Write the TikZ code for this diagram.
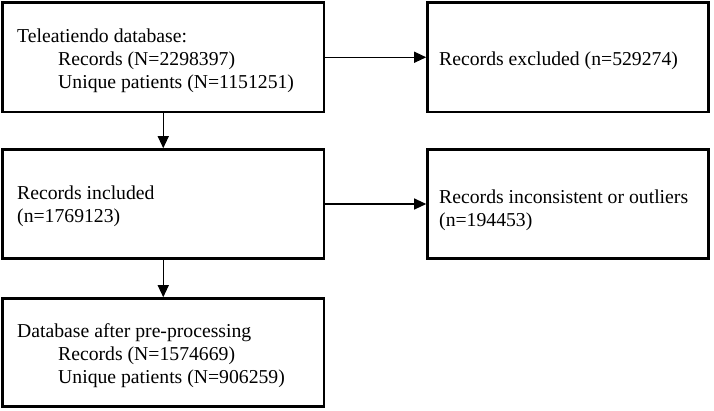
\documentclass[tikz,border=0pt]{standalone}
\usepackage{fontspec}
\setmainfont{Liberation Serif}
\usetikzlibrary{arrows.meta}
\tikzset{
  box/.style={draw=black, line width=2.6pt, rectangle, inner sep=0pt, fill=white},
  lbl/.style={anchor=base west, inner sep=0pt, font=\fontsize{19.7pt}{23pt}\selectfont},
  conn/.style={line width=1.1pt, -{Triangle[length=12pt,width=11pt]}},
}
\begin{document}
\begin{tikzpicture}[x=1pt,y=-1pt]
\useasboundingbox[fill=white] (0,0) rectangle (714,410);
% boxes
\node[box, minimum width=321.5pt, minimum height=109.5pt] (b1) at (163.25,57.25) {};
\node[box, minimum width=281pt, minimum height=109.5pt] (b2) at (568,57.25) {};
\node[box, minimum width=321.5pt, minimum height=109pt] (b3) at (163.25,204) {};
\node[box, minimum width=281pt, minimum height=109pt] (b4) at (568,204) {};
\node[box, minimum width=321.5pt, minimum height=108pt] (b5) at (163.25,352.5) {};
% texts
\node[lbl] (t1a) at (17,42) {Teleatiendo database:};
\node[lbl] (t1b) at (58,65) {Records (N=2298397)};
\node[lbl] (t1c) at (58,88) {Unique patients (N=1151251)};
\node[lbl] (t2) at (439,65) {Records excluded (n=529274)};
\node[lbl] (t3a) at (17,199) {Records included};
\node[lbl] (t3b) at (17,222) {(n=1769123)};
\node[lbl] (t4a) at (439,203) {Records inconsistent or outliers};
\node[lbl] (t4b) at (439,226) {(n=194453)};
\node[lbl] (t5a) at (17,337) {Database after pre-processing};
\node[lbl] (t5b) at (58,360) {Records (N=1574669)};
\node[lbl] (t5c) at (58,383) {Unique patients (N=906259)};
% connectors
\draw[conn] (b1.east) -- (b2.west);
\draw[conn] (b1.south) -- (b3.north);
\draw[conn] (b3.east) -- (b4.west);
\draw[conn] (b3.south) -- (b5.north);
\end{tikzpicture}
\end{document}
